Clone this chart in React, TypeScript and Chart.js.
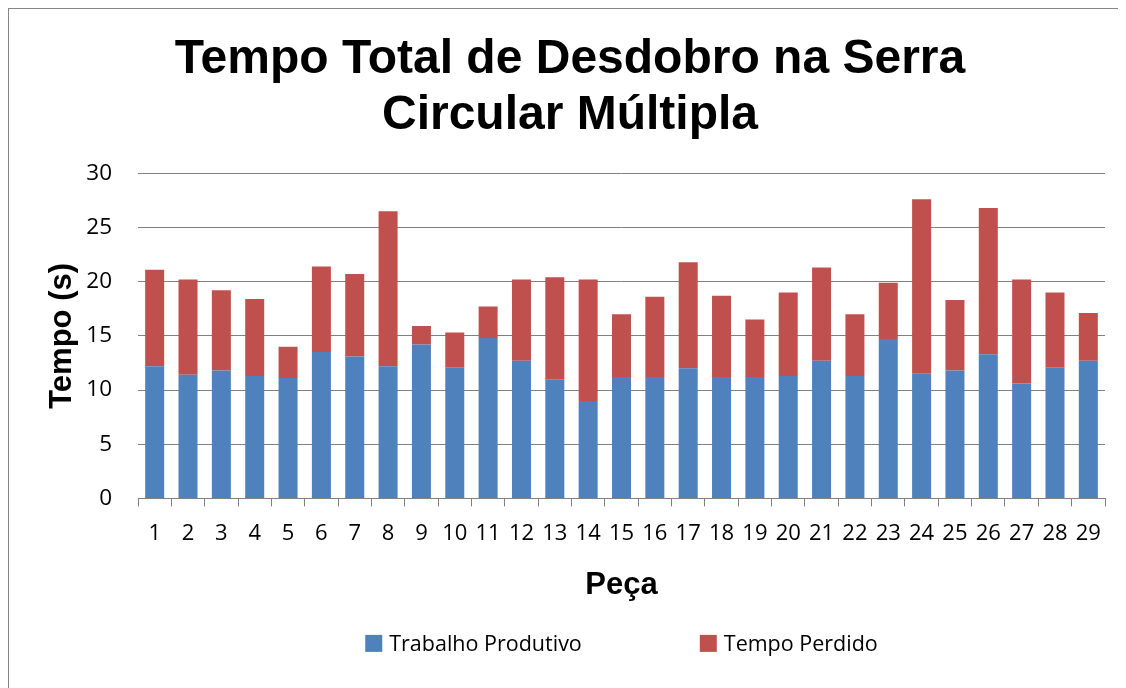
import React, { useEffect, useRef } from "react";
import { Chart, registerables } from "chart.js";

Chart.register(...registerables);

const pieces: string[] = Array.from({ length: 29 }, (_, i) => String(i + 1));
const trabalhoProdutivo: number[] = [12.2, 11.4, 11.8, 11.3, 11.1, 13.5, 13.1, 12.2, 14.2, 12.1, 14.8, 12.7, 11.0, 9.0, 11.2, 11.2, 12.0, 11.2, 11.2, 11.3, 12.7, 11.3, 14.7, 11.5, 11.8, 13.3, 10.6, 12.1, 12.7];
const tempoPerdido: number[] = [8.9, 8.8, 7.4, 7.1, 2.9, 7.9, 7.6, 14.3, 1.7, 3.2, 2.9, 7.5, 9.4, 11.2, 5.8, 7.4, 9.8, 7.5, 5.3, 7.7, 8.6, 5.7, 5.2, 16.1, 6.5, 13.5, 9.6, 6.9, 4.4];
const titleLines: string[] = ["Tempo Total de Desdobro na Serra", "Circular Múltipla"];

const GRID = "#808080";

const legendPlugin = {
  id: "customLegend",
  afterDraw(chart: any) {
    const ctx = chart.ctx;
    const area = chart.chartArea;
    ctx.save();
    ctx.font = '21.5px "Open Sans"';
    const items = chart.data.datasets.map((ds: any) => ({ label: ds.label, color: ds.backgroundColor }));
    const box = 17, gapText = 7, gapItem = 118;
    const widths = items.map((it: any) => box + gapText + ctx.measureText(it.label).width);
    const total = widths.reduce((a: number, b: number) => a + b, 0) + gapItem * (items.length - 1);
    let x = (area.left + area.right) / 2 - total / 2;
    const y = area.bottom + 145;
    items.forEach((it: any, i: number) => {
      ctx.fillStyle = it.color;
      ctx.fillRect(x, y - box / 2, box, box);
      ctx.fillStyle = "#000";
      ctx.textBaseline = "middle";
      ctx.textAlign = "left";
      ctx.fillText(it.label, x + box + gapText, y + 1);
      x += widths[i] + gapItem;
    });
    ctx.restore();
  },
};

export default function App() {
  const ref = useRef<HTMLCanvasElement>(null);
  useEffect(() => {
    document.body.style.overflow = "hidden";
    const chart = new Chart(ref.current as HTMLCanvasElement, {
      type: "bar",
      data: {
        labels: pieces,
        datasets: [
          { label: "Trabalho Produtivo", data: trabalhoProdutivo, backgroundColor: "#4F81BD", barPercentage: 0.57, categoryPercentage: 1 },
          { label: "Tempo Perdido", data: tempoPerdido, backgroundColor: "#C0504D", barPercentage: 0.57, categoryPercentage: 1 },
        ],
      },
      options: {
        responsive: false,
        animation: false,
        devicePixelRatio: 1,
        layout: { padding: { left: 26, right: 28, top: 0, bottom: 93 } },
        plugins: {
          legend: { display: false },
          tooltip: { enabled: false },
          title: {
            display: true,
            text: titleLines,
            color: "#000",
            font: { family: '"Liberation Sans", Arial', size: 48, weight: "bold", lineHeight: 1.17 },
            padding: { top: 23, bottom: 29 },
          },
        },
        scales: {
          x: {
            stacked: true,
            offset: true,
            grid: { display: true, drawOnChartArea: false, drawTicks: true, tickLength: 8, color: GRID, lineWidth: 1 },
            border: { display: true, color: GRID, width: 1 },
            ticks: { color: "#000", font: { family: '"Open Sans"', size: 22 }, padding: 14, maxRotation: 0, autoSkip: false },
            title: { display: true, text: "Peça", color: "#000", font: { family: '"Liberation Sans", Arial', size: 31, weight: "bold" }, padding: { top: 6, bottom: 0 } },
          },
          y: {
            stacked: true,
            min: 0,
            max: 30,
            afterFit: (scale: any) => { scale.width = 103; },
            grid: { color: GRID, lineWidth: 1, drawTicks: false },
            border: { display: false },
            ticks: { stepSize: 5, color: "#000", font: { family: '"Open Sans"', size: 22.5 }, padding: 26 },
            title: { display: true, text: "Tempo (s)", color: "#000", font: { family: '"Liberation Sans", Arial', size: 31, weight: "bold" }, padding: { top: 9, bottom: 0 } },
          },
        },
      },
      plugins: [legendPlugin],
    } as any);
    return () => chart.destroy();
  }, []);
  return (
    <div style={{ width: 1124, height: 700, border: "1px solid #868686" }}>
      <canvas ref={ref} width={1124} height={688} style={{ display: "block" }} />
    </div>
  );
}
